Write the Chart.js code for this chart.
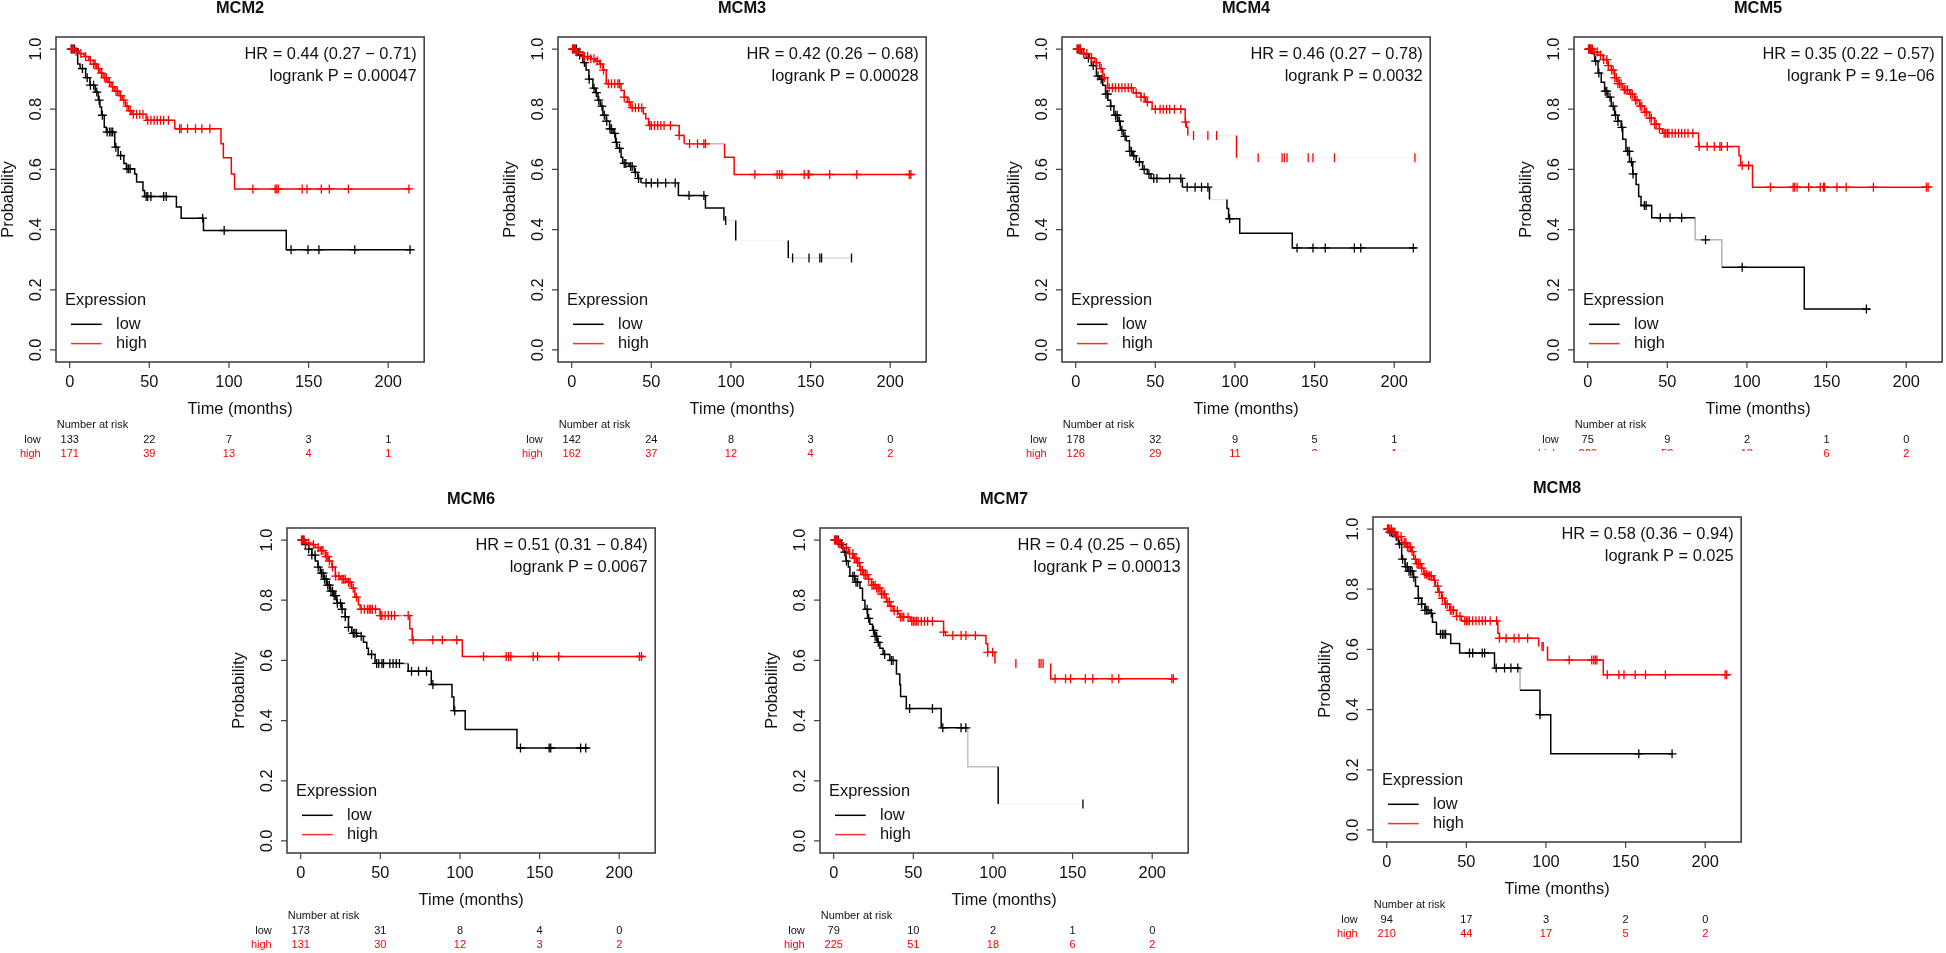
<!DOCTYPE html>
<html>
<head>
<meta charset="utf-8">
<title>MCM Kaplan-Meier</title>
<script src="https://cdn.jsdelivr.net/npm/chart.js@4.4.1/dist/chart.umd.min.js"></script>
<style>
  html, body { margin: 0; padding: 0; background: #fff; width: 1946px; height: 953px; overflow: hidden; }
  canvas { position: absolute; }
</style>
</head>
<body>
<script>
// ---- shared axes ----
const timeTicks = [0, 50, 100, 150, 200];
const probTicks = [0, 0.2, 0.4, 0.6, 0.8, 1.0];

// ---- MCM2 ----
const mcm2LowTime = [0, 5, 6.5, 10, 12.7, 16, 18, 19, 20, 21.7, 23, 28.3, 30.4, 34, 35.6, 40.8, 42, 46, 47, 67, 70, 84, 136, 214];
const mcm2LowSurv = [1, 0.95, 0.935, 0.905, 0.88, 0.857, 0.83, 0.807, 0.78, 0.74, 0.724, 0.674, 0.646, 0.62, 0.602, 0.585, 0.558, 0.53, 0.51, 0.475, 0.438, 0.397, 0.333, 0.333];
const mcm2LowCens = [1, 2, 3, 8, 11, 13, 15, 17, 18.5, 20.5, 23.5, 25, 26, 27, 29, 32, 36, 37, 38, 48, 49, 51, 59, 60.6, 83.5, 97, 139, 149.6, 156.5, 179, 213.7];
const mcm2HighTime = [0, 3, 6, 9, 12, 15, 17, 19, 21, 24, 26, 28, 31, 33, 35, 37, 39, 48, 66, 95, 96.5, 101.5, 103.5, 214];
const mcm2HighSurv = [1, 0.993, 0.985, 0.975, 0.962, 0.95, 0.935, 0.92, 0.905, 0.89, 0.875, 0.86, 0.845, 0.83, 0.81, 0.795, 0.783, 0.763, 0.735, 0.685, 0.639, 0.585, 0.535, 0.535];
const mcm2HighCens = [1, 2, 4, 7, 10, 13, 15, 16, 18, 20, 22, 23, 25, 27, 29, 30, 32, 34, 36, 38, 40, 42, 44, 46, 49, 51, 53, 55, 57, 59, 62, 69, 70, 74, 79, 83, 88, 115, 129, 130, 131, 146, 149, 158, 163, 175, 213];
const mcm2RiskLow = [133, 22, 7, 3, 1];
const mcm2RiskHigh = [171, 39, 13, 4, 1];

// ---- MCM3 ----
const mcm3LowTime = [0, 4, 7, 9, 10.8, 13.3, 15, 16.5, 18, 19.6, 21.7, 23.8, 26, 27.5, 28.5, 31, 32, 36, 39.4, 41.5, 43.5, 67, 84, 95.6, 103, 136, 176.3];
const mcm3LowSurv = [1, 0.98, 0.955, 0.93, 0.9, 0.87, 0.855, 0.83, 0.81, 0.78, 0.76, 0.735, 0.72, 0.69, 0.67, 0.64, 0.62, 0.61, 0.59, 0.57, 0.555, 0.513, 0.472, 0.43, 0.364, 0.306, 0.306];
const mcm3LowCens = [1, 2, 3, 5, 8, 11, 14, 15.5, 17, 19, 20.5, 22, 24, 25, 27, 28, 30, 33, 34, 37, 38, 40, 42, 46.7, 50, 54, 59, 65, 73.7, 83, 96.7, 138.7, 149, 155.8, 156.9, 175.7];
const mcm3HighTime = [0, 3, 7, 12, 15, 17.5, 19.6, 21.7, 31, 33, 35, 37, 45, 46.5, 48.3, 67.5, 70.6, 96, 102, 213.5];
const mcm3HighSurv = [1, 0.99, 0.975, 0.968, 0.96, 0.95, 0.93, 0.885, 0.862, 0.84, 0.824, 0.805, 0.785, 0.768, 0.746, 0.713, 0.685, 0.64, 0.583, 0.583];
const mcm3HighCens = [0.5, 1, 2, 3, 5, 8, 10, 12, 14, 16, 18, 20, 23, 25, 27, 29, 30, 33, 36, 38, 40, 42, 44, 49, 50, 52, 54, 56, 58, 62, 67.5, 74, 79, 83, 84, 115, 129, 130.5, 132, 146, 148.5, 149, 162, 179, 212, 213];
const mcm3RiskLow = [142, 24, 8, 3, 0];
const mcm3RiskHigh = [162, 37, 12, 4, 2];

// ---- MCM4 ----
const mcm4LowTime = [0, 3.5, 6.7, 9.8, 13, 15, 17, 18.75, 20.2, 21.9, 24, 26.5, 28, 30, 31.7, 33.75, 35.8, 38, 42, 45, 47.3, 67, 84, 95, 96, 103, 136, 214];
const mcm4LowSurv = [1, 0.985, 0.97, 0.945, 0.91, 0.9, 0.88, 0.85, 0.83, 0.81, 0.78, 0.76, 0.73, 0.71, 0.695, 0.66, 0.645, 0.625, 0.6, 0.585, 0.57, 0.541, 0.5, 0.47, 0.436, 0.388, 0.339, 0.339];
const mcm4LowCens = [1, 2, 3, 5, 8, 11, 14, 16, 19, 20, 22, 25, 26, 27.5, 29, 31, 34, 35, 36.5, 40, 43, 46, 49, 51, 59, 66, 70, 75, 79, 83, 96.7, 139, 149, 156.7, 175, 179, 212];
const mcm4HighTime = [0, 4.6, 8.75, 11.9, 15, 17, 20, 36.2, 41, 44, 48, 68.75, 69.5, 70.4, 101, 213];
const mcm4HighSurv = [1, 0.985, 0.97, 0.955, 0.935, 0.905, 0.871, 0.854, 0.84, 0.824, 0.8, 0.757, 0.74, 0.713, 0.639, 0.639];
const mcm4HighCens = [1, 2, 3, 5, 7, 10, 13, 16, 18, 21, 23, 25, 27, 29, 31, 33, 35, 38, 41, 43, 45, 50, 53, 55, 57, 59, 62, 66, 69, 74, 83, 88.5, 114.6, 129.6, 131, 132.7, 146, 149, 162.5, 213];
const mcm4RiskLow = [178, 32, 9, 5, 1];
const mcm4RiskHigh = [126, 29, 11, 2, 1];

// ---- MCM5 ----
const mcm5LowTime = [0, 2.3, 4.4, 6.5, 8.5, 10.6, 12.7, 14.8, 16.9, 19, 21, 22, 24, 26.25, 28.3, 30.4, 32, 33.5, 40.2, 67.5, 84.2, 136, 177.3];
const mcm5LowSurv = [1, 0.985, 0.96, 0.92, 0.89, 0.86, 0.84, 0.81, 0.78, 0.76, 0.74, 0.7, 0.66, 0.625, 0.585, 0.55, 0.51, 0.48, 0.439, 0.366, 0.275, 0.136, 0.136];
const mcm5LowCens = [1, 2, 5, 7, 11, 12, 14, 16, 17.5, 19, 21.5, 25, 26, 27.5, 28.5, 35.6, 36.7, 45.6, 51.7, 59, 74, 97, 175];
const mcm5HighTime = [0, 3.3, 6.5, 9.6, 12.7, 14.8, 16.9, 19, 22, 26.25, 29.4, 32.5, 35.6, 38.75, 42, 45, 47, 69.6, 95, 96, 103.5, 215.4];
const mcm5HighSurv = [1, 0.99, 0.98, 0.965, 0.945, 0.93, 0.905, 0.885, 0.865, 0.85, 0.83, 0.81, 0.79, 0.77, 0.75, 0.735, 0.72, 0.676, 0.646, 0.613, 0.541, 0.541];
const mcm5HighCens = [0.5, 1, 2, 3, 4, 6, 8, 10, 12, 13, 15, 16, 17, 18, 19, 20, 21, 23, 24, 25, 27, 28, 30, 31, 33, 34, 36, 37, 39, 40, 42, 43, 45, 48, 49, 50, 51, 53, 55, 57, 59, 61, 63, 66, 70, 75, 79.5, 83, 84, 87.7, 97, 101, 114.8, 129, 130, 131.5, 138.75, 146, 148, 148.75, 156.5, 162.3, 179.4, 212.7, 213.75];
const mcm5RiskLow = [75, 9, 2, 1, 0];
const mcm5RiskHigh = [229, 52, 18, 6, 2];

// ---- MCM6 ----
const mcm6LowTime = [0, 2.9, 5, 7, 9.2, 10.8, 12.3, 14.4, 16.5, 18.5, 20.6, 22.7, 25.8, 27.9, 30, 32, 35.2, 39.4, 41.5, 42.5, 46.7, 67.5, 82, 95, 96.2, 103.3, 135.8, 180.6];
const mcm6LowSurv = [1, 0.985, 0.97, 0.95, 0.93, 0.91, 0.89, 0.87, 0.85, 0.83, 0.815, 0.79, 0.77, 0.745, 0.71, 0.69, 0.68, 0.66, 0.64, 0.62, 0.59, 0.564, 0.52, 0.478, 0.433, 0.37, 0.309, 0.309];
const mcm6LowCens = [1, 2, 3, 5, 7, 9, 11, 13, 14, 15, 16, 17, 18, 19, 20, 21, 22, 23, 25, 26, 28, 30, 33, 34, 35, 38, 44.5, 47.7, 49, 51, 52, 56, 58, 60, 62, 69.6, 74, 79, 83, 96.7, 138, 156, 157, 175.8, 179];
const mcm6HighTime = [0, 2.9, 6, 9.2, 12.3, 15.4, 17.5, 19.6, 21.7, 24.8, 29, 32, 34, 36.25, 37.3, 49.8, 68.5, 70, 101.5, 215.4];
const mcm6HighSurv = [1, 0.99, 0.985, 0.975, 0.965, 0.945, 0.93, 0.91, 0.88, 0.87, 0.86, 0.84, 0.81, 0.785, 0.77, 0.749, 0.705, 0.668, 0.613, 0.613];
const mcm6HighCens = [0.5, 1, 2, 3, 5, 8, 11, 13, 14, 16, 17, 18, 20, 22, 24, 26, 27, 28, 30, 31, 33, 35, 38, 40, 42, 43, 44, 45, 47, 50, 51, 53, 55, 57, 59, 67.5, 70.6, 83, 89, 98, 114.8, 129, 130.5, 132, 146, 148.75, 162, 212.7, 214];
const mcm6RiskLow = [173, 31, 8, 4, 0];
const mcm6RiskHigh = [131, 30, 12, 3, 2];

// ---- MCM7 ----
const mcm7LowTime = [0, 4, 6, 7.7, 9.2, 10.2, 13.3, 16.5, 18.1, 19.6, 21.25, 22.7, 24.4, 25.8, 27.3, 29, 31, 35.2, 39.4, 41.5, 42, 45.6, 67.5, 84.2, 103.3, 156.5];
const mcm7LowSurv = [1, 0.985, 0.96, 0.93, 0.91, 0.88, 0.86, 0.84, 0.8, 0.77, 0.74, 0.72, 0.7, 0.68, 0.66, 0.64, 0.62, 0.6, 0.555, 0.52, 0.48, 0.44, 0.376, 0.247, 0.123, 0.123];
const mcm7LowCens = [1, 2, 3, 5, 7, 8, 12, 13, 14, 15, 21, 22, 25, 26, 27, 28, 32, 36.25, 37.3, 47.7, 62, 68.5, 80, 83, 156.5];
const mcm7HighTime = [0, 2.9, 6, 9.2, 12.3, 14.4, 16.5, 18.5, 21.7, 23.75, 26.9, 30, 33, 35.2, 37.3, 40.4, 41.5, 48, 69, 70.2, 95.6, 96.7, 101.25, 136.25, 215.4];
const mcm7HighSurv = [1, 0.99, 0.975, 0.955, 0.94, 0.925, 0.9, 0.885, 0.87, 0.85, 0.84, 0.82, 0.795, 0.78, 0.765, 0.755, 0.744, 0.73, 0.694, 0.683, 0.655, 0.627, 0.59, 0.539, 0.539];
const mcm7HighCens = [0.5, 1, 2, 3, 4, 6, 8, 10, 12, 13, 14, 15, 16, 17, 18, 19, 20, 21, 22, 24, 25, 26, 27, 28, 29, 30, 31, 32, 34, 35, 36, 38, 40, 42, 43, 44, 46.7, 49, 50, 51, 52, 53, 55, 57, 59, 62, 69, 74.8, 80, 83, 89, 96.7, 99.8, 114.4, 129, 130.2, 131.5, 139, 145.6, 148.75, 158, 162.7, 174.8, 179, 212.3, 213.3];
const mcm7RiskLow = [79, 10, 2, 1, 0];
const mcm7RiskHigh = [225, 51, 18, 6, 2];

// ---- MCM8 ----
const mcm8LowTime = [0, 2, 5.2, 7.3, 9.4, 11.5, 13.5, 16.7, 18.1, 19.8, 21.9, 24, 27, 28.75, 31.25, 40.2, 45.8, 67.7, 83.75, 96.25, 103, 179.8];
const mcm8LowSurv = [1, 0.99, 0.975, 0.95, 0.9, 0.875, 0.86, 0.84, 0.81, 0.77, 0.75, 0.73, 0.72, 0.69, 0.65, 0.62, 0.588, 0.538, 0.464, 0.383, 0.253, 0.253];
const mcm8LowCens = [1, 2, 3, 4, 6, 8, 10, 12, 13, 14, 15, 16, 17, 20, 22, 24, 25, 26, 28, 33.75, 35, 36, 37, 52, 54, 60, 61.5, 68.75, 74, 78, 82.3, 96.25, 158.3, 179.2];
const mcm8HighTime = [0, 3.1, 6.25, 9.4, 12.5, 15.6, 17, 18.75, 21.9, 23.3, 26, 29.2, 30.6, 32.3, 34.4, 36.5, 39.6, 43.75, 46.9, 69.8, 70.8, 95.4, 101, 136, 215.6];
const mcm8HighSurv = [1, 0.99, 0.975, 0.955, 0.94, 0.925, 0.9, 0.885, 0.87, 0.85, 0.845, 0.83, 0.81, 0.79, 0.77, 0.75, 0.73, 0.71, 0.695, 0.654, 0.637, 0.61, 0.565, 0.516, 0.516];
const mcm8HighCens = [0.5, 1, 2, 3, 5, 7, 9, 11, 12, 13, 14, 15, 16, 18, 19, 20, 21, 22, 24, 25, 26, 27, 28, 30, 32, 33, 35, 37, 38, 40, 41, 42, 44, 46, 49, 50, 51, 52, 54, 56, 58, 60, 62, 65, 69, 70.8, 75, 80, 83, 88.5, 97.5, 98.3, 114.6, 128.75, 130, 131, 132, 138.5, 145.8, 149, 156, 162.5, 175, 212.5, 213.5];
const mcm8RiskLow = [94, 17, 3, 2, 0];
const mcm8RiskHigh = [210, 44, 17, 5, 2];

// ---- layout (top-left of each plot box, page pixels) and faded stretches of the scan ----
const FONT = '"Liberation Sans", Arial, Helvetica, sans-serif';
const BOX_W = 369, BOX_H = 325, PAD_L = 56, PAD_T = 40, CANVAS_W = 430, CANVAS_H = 470;

const panels = [
  { name: 'MCM2', bx: 56, by: 36.7, hr: 'HR = 0.44 (0.27 \u2212 0.71)', p: 'logrank P = 0.00047',
    low: [mcm2LowTime, mcm2LowSurv, mcm2LowCens], high: [mcm2HighTime, mcm2HighSurv, mcm2HighCens], riskLow: mcm2RiskLow, riskHigh: mcm2RiskHigh,
    fadeLow: [], fadeHigh: [] },
  { name: 'MCM3', bx: 558, by: 36.7, hr: 'HR = 0.42 (0.26 \u2212 0.68)', p: 'logrank P = 0.00028',
    low: [mcm3LowTime, mcm3LowSurv, mcm3LowCens], high: [mcm3HighTime, mcm3HighSurv, mcm3HighCens], riskLow: mcm3RiskLow, riskHigh: mcm3RiskHigh,
    fadeLow: [[43.5, 67, 0.3], [95.6, 103, 0.1], [103, 136, 0.04], [136, 176.3, 0.15]], fadeHigh: [[70.6, 96, 0.35]] },
  { name: 'MCM4', bx: 1062, by: 36.7, hr: 'HR = 0.46 (0.27 \u2212 0.78)', p: 'logrank P = 0.0032',
    low: [mcm4LowTime, mcm4LowSurv, mcm4LowCens], high: [mcm4HighTime, mcm4HighSurv, mcm4HighCens], riskLow: mcm4RiskLow, riskHigh: mcm4RiskHigh,
    fadeLow: [[67, 84, 0.5], [84, 95, 0.1]], fadeHigh: [[70.4, 101, 0.08], [101, 213, 0.04]],
    cutHigh: [false, false, false, true, true] },
  { name: 'MCM5', bx: 1574, by: 36.7, hr: 'HR = 0.35 (0.22 \u2212 0.57)', p: 'logrank P = 9.1e\u221206',
    low: [mcm5LowTime, mcm5LowSurv, mcm5LowCens], high: [mcm5HighTime, mcm5HighSurv, mcm5HighCens], riskLow: mcm5RiskLow, riskHigh: mcm5RiskHigh,
    fadeLow: [[60, 84.3, 0.3]], fadeHigh: [],
    cutHigh: [true, true, true, false, false], cutLabel: true },
  { name: 'MCM6', bx: 286.7, by: 527.7, hr: 'HR = 0.51 (0.31 \u2212 0.84)', p: 'logrank P = 0.0067',
    low: [mcm6LowTime, mcm6LowSurv, mcm6LowCens], high: [mcm6HighTime, mcm6HighSurv, mcm6HighCens], riskLow: mcm6RiskLow, riskHigh: mcm6RiskHigh,
    fadeLow: [[46.7, 67.5, 0.45]], fadeHigh: [[49.8, 68.5, 0.5]] },
  { name: 'MCM7', bx: 820, by: 527.7, hr: 'HR = 0.4 (0.25 \u2212 0.65)', p: 'logrank P = 0.00013',
    low: [mcm7LowTime, mcm7LowSurv, mcm7LowCens], high: [mcm7HighTime, mcm7HighSurv, mcm7HighCens], riskLow: mcm7RiskLow, riskHigh: mcm7RiskHigh,
    fadeLow: [[80, 103.3, 0.25], [103.3, 156.5, 0.04]], fadeHigh: [[101.25, 136.25, 0.05]] },
  { name: 'MCM8', bx: 1372.7, by: 517.3, hr: 'HR = 0.58 (0.36 \u2212 0.94)', p: 'logrank P = 0.025',
    low: [mcm8LowTime, mcm8LowSurv, mcm8LowCens], high: [mcm8HighTime, mcm8HighSurv, mcm8HighCens], riskLow: mcm8RiskLow, riskHigh: mcm8RiskHigh,
    fadeLow: [[75, 83.8, 0.3]], fadeHigh: [[95.4, 101, 0.1]] }
];

// survival level at time t (step function, right-continuous)
function stepValue(times, surv, t) {
  let v = surv[0];
  for (let i = 0; i < times.length; i++) {
    if (times[i] <= t) v = surv[i];
  }
  return v;
}

// step curve as alternating horizontal / vertical pieces
function curveData(c) {
  const pts = [{ x: c[0][0], y: c[1][0] }];
  for (let i = 1; i < c[0].length; i++) {
    pts.push({ x: c[0][i], y: c[1][i - 1] });
    if (c[1][i] !== c[1][i - 1]) pts.push({ x: c[0][i], y: c[1][i] });
  }
  return pts;
}
function censorData(c) {
  return c[2].map(t => ({ x: t, y: stepValue(c[0], c[1], t) }));
}

function fadeFor(x0, x1, fades) {
  for (const [t0, t1, al] of fades) {
    if (x0 === x1) { if (x0 > t0 && x0 < t1) return al; }
    else if (x0 >= t0 && x1 <= t1) return al;
  }
  return 1;
}
function pointFade(t, fades) {
  for (const [t0, t1, al] of fades) {
    if (t > t0 && t <= t1 + 1) return al;
  }
  return 1;
}

// R-style frame, axes, annotations and risk table
const kmDecor = {
  id: 'kmDecor',
  afterDraw(chart, args, o) {
    const ctx = chart.ctx;
    const a = chart.chartArea;
    const xs = chart.scales.x, ys = chart.scales.y;
    const cx = (a.left + a.right) / 2;
    ctx.save();

    ctx.strokeStyle = '#444';
    ctx.lineWidth = 1.6;
    ctx.strokeRect(a.left, a.top, a.right - a.left, a.bottom - a.top);

    ctx.lineWidth = 1.2;
    ctx.beginPath();
    timeTicks.forEach(v => {
      const x = xs.getPixelForValue(v);
      ctx.moveTo(x, a.bottom); ctx.lineTo(x, a.bottom + 6);
    });
    probTicks.forEach(v => {
      const y = ys.getPixelForValue(v);
      ctx.moveTo(a.left, y); ctx.lineTo(a.left - 6, y);
    });
    ctx.stroke();

    ctx.fillStyle = '#111';
    ctx.font = '16.4px ' + FONT;
    ctx.textAlign = 'center';
    ctx.textBaseline = 'middle';
    timeTicks.forEach(v => ctx.fillText(String(v), xs.getPixelForValue(v), a.bottom + 20));
    probTicks.forEach(v => {
      ctx.save();
      ctx.translate(a.left - 20.6, ys.getPixelForValue(v));
      ctx.rotate(-Math.PI / 2);
      ctx.fillText(v.toFixed(1), 0, 1);
      ctx.restore();
    });
    ctx.fillText('Time (months)', cx, a.bottom + 47.3);
    ctx.save();
    ctx.translate(a.left - 47.6, (a.top + a.bottom) / 2);
    ctx.rotate(-Math.PI / 2);
    ctx.fillText('Probability', 0, 0);
    ctx.restore();

    ctx.font = 'bold 16.4px ' + FONT;
    ctx.fillText(o.name, cx, a.top - 28.4);

    ctx.font = '16.4px ' + FONT;
    ctx.textAlign = 'right';
    ctx.fillText(o.hr, a.left + 360.7, a.top + 17.6);
    ctx.fillText(o.p, a.left + 360.7, a.top + 39);

    // legend
    ctx.textAlign = 'left';
    ctx.fillText('Expression', a.left + 9, a.top + 263.3);
    ctx.fillText('low', a.left + 60, a.top + 287.3);
    ctx.fillText('high', a.left + 60, a.top + 306.6);
    ctx.lineWidth = 1.5;
    ctx.strokeStyle = '#000';
    ctx.beginPath(); ctx.moveTo(a.left + 15, a.top + 287.3); ctx.lineTo(a.left + 45.7, a.top + 287.3); ctx.stroke();
    ctx.strokeStyle = '#ff3030';
    ctx.beginPath(); ctx.moveTo(a.left + 15, a.top + 306.6); ctx.lineTo(a.left + 45.7, a.top + 306.6); ctx.stroke();

    // number at risk
    ctx.font = '11px ' + FONT;
    ctx.fillStyle = '#111';
    ctx.fillText('Number at risk', a.left + 0.7, a.top + 388.3);
    ctx.textAlign = 'right';
    ctx.fillText('low', a.left - 15.3, a.top + 402.6);
    const cut = a.top + 414;
    const drawCut = (txt, x, y, isCut) => {
      if (!isCut) { ctx.fillText(txt, x, y); return; }
      ctx.save();
      ctx.beginPath(); ctx.rect(x - 40, y - 20, 80, cut - (y - 20)); ctx.clip();
      ctx.fillText(txt, x, y);
      ctx.restore();
    };
    ctx.fillStyle = '#ff0000';
    drawCut('high', a.left - 15.3, a.top + 416.6, o.cutLabel);
    ctx.textAlign = 'center';
    timeTicks.forEach((v, i) => {
      const x = xs.getPixelForValue(v);
      ctx.fillStyle = '#111';
      ctx.fillText(String(o.riskLow[i]), x, a.top + 402.6);
      ctx.fillStyle = '#ff0000';
      drawCut(String(o.riskHigh[i]), x, a.top + 416.6, o.cutHigh && o.cutHigh[i]);
    });
    ctx.restore();
  }
};

function lineSet(label, c, rgb, fades, order) {
  return {
    label, data: curveData(c), borderColor: 'rgb(' + rgb + ')', borderWidth: 1.5, pointRadius: 0, fill: false, order,
    segment: { borderColor: s => 'rgba(' + rgb + ',' + fadeFor(s.p0.parsed.x, s.p1.parsed.x, fades) + ')' }
  };
}
function censorSet(label, c, rgb, fades, order) {
  // where the scan lost the horizontal line, only the vertical bar of each "+" survives
  const faint = s => s.raw && pointFade(s.raw.x, fades) < 0.2;
  return {
    label, data: censorData(c), showLine: false, borderColor: 'rgb(' + rgb + ')', borderWidth: 1.3, order,
    pointStyle: s => faint(s) ? 'line' : 'cross',
    rotation: s => faint(s) ? 90 : 0,
    pointRadius: 4.5
  };
}

panels.forEach(p => {
  const canvas = document.createElement('canvas');
  canvas.width = CANVAS_W;
  canvas.height = CANVAS_H;
  canvas.style.left = (p.bx - PAD_L) + 'px';
  canvas.style.top = (p.by - PAD_T) + 'px';
  document.body.appendChild(canvas);

  new Chart(canvas, {
    type: 'line',
    data: {
      datasets: [
        lineSet('low', p.low, '0,0,0', p.fadeLow, 3),
        censorSet('low censored', p.low, '0,0,0', p.fadeLow, 2),
        lineSet('high', p.high, '255,0,0', p.fadeHigh, 1),
        censorSet('high censored', p.high, '255,0,0', p.fadeHigh, 0)
      ]
    },
    options: {
      responsive: false,
      animation: false,
      devicePixelRatio: 1,
      layout: { padding: { left: PAD_L, top: PAD_T, right: CANVAS_W - PAD_L - BOX_W, bottom: CANVAS_H - PAD_T - BOX_H } },
      scales: {
        x: { type: 'linear', min: -8.6, max: 222.6, display: false },
        y: { type: 'linear', min: -0.04, max: 1.04, display: false }
      },
      plugins: {
        legend: { display: false },
        tooltip: { enabled: false },
        kmDecor: { name: p.name, hr: p.hr, p: p.p, riskLow: p.riskLow, riskHigh: p.riskHigh, cutHigh: p.cutHigh, cutLabel: p.cutLabel }
      }
    },
    plugins: [kmDecor]
  });
});
</script>
</body>
</html>
